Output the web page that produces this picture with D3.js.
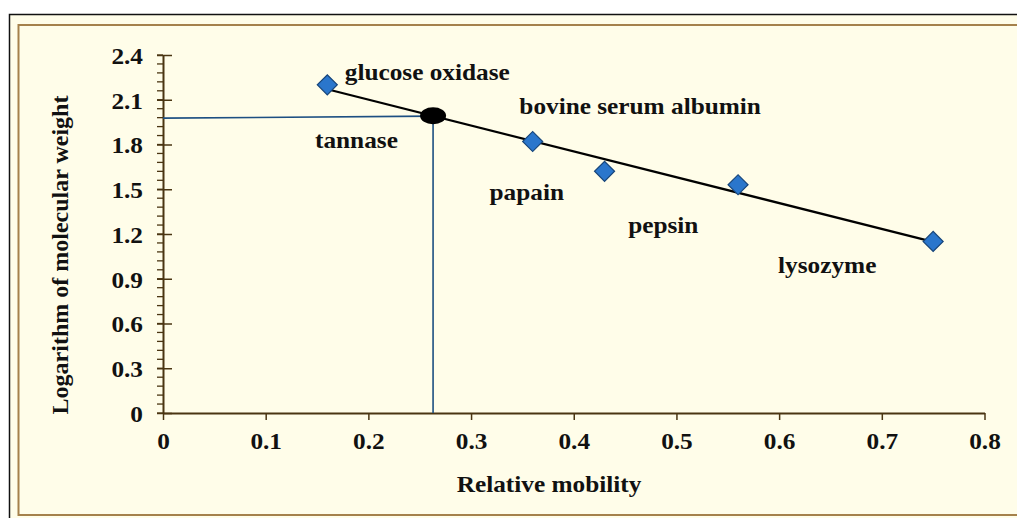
<!DOCTYPE html>
<html>
<head>
<meta charset="utf-8">
<script src="https://cdn.jsdelivr.net/npm/d3@7"></script>
<style>
  body { margin: 0; background: #fff; }
  svg text { font-family: "Liberation Serif", "Times New Roman", serif; font-weight: bold; fill: #111; }
</style>
</head>
<body>
<svg id="chart" width="1017" height="518"></svg>
<script>
// standards (relative mobility vs log MW)
var proteins = ['glucose oxidase', 'bovine serum albumin', 'papain', 'pepsin', 'lysozyme'];
var mobility = [0.16, 0.36, 0.43, 0.56, 0.75];
var logMW = [2.2, 1.82, 1.62, 1.53, 1.15];
// where each label sits (data units)
var labelX = [0.177, 0.347, 0.318, 0.453, 0.599];
var labelY = [2.232, 2.004, 1.428, 1.207, 0.939];
var tannase = {name: 'tannase', x: 0.263, y: 1.99, lx: 0.148, ly: 1.774};
var xTicks = [0, 0.1, 0.2, 0.3, 0.4, 0.5, 0.6, 0.7, 0.8];
var yTicks = [0, 0.3, 0.6, 0.9, 1.2, 1.5, 1.8, 2.1, 2.4];

var svg = d3.select('#chart');
var axisCol = '#4a3512';
var sx = 1.1; // the source picture is a bit wider than tall

// outer frames
svg.append('rect').attr('x', 9.5).attr('y', 14.5).attr('width', 1030).attr('height', 520)
  .attr('fill', '#fffde9').attr('stroke', '#111').attr('stroke-width', 1.5);
svg.append('rect').attr('x', 18.5).attr('y', 25).attr('width', 1030).attr('height', 490)
  .attr('fill', '#fffde9').attr('stroke', '#a5814c').attr('stroke-width', 2);

var x = d3.scaleLinear().domain([0, 0.8]).range([163, 984.5]);
var y = d3.scaleLinear().domain([0, 2.4]).range([413, 55]);

// y minor ticks (4 between majors)
var minor = d3.range(0, 2.4001, 0.06);
svg.append('g').selectAll('line').data(minor).join('line')
  .attr('x1', 157).attr('x2', 163)
  .attr('y1', function(d) { return y(d); }).attr('y2', function(d) { return y(d); })
  .attr('stroke', axisCol).attr('stroke-width', 1.3);

var fmt = function(d) { return d === 0 ? '0' : d3.format('.1f')(d); };

// y axis
var gy = svg.append('g').attr('transform', 'translate(163,0)')
  .call(d3.axisLeft(y).tickValues(yTicks).tickSizeInner(6).tickSizeOuter(0).tickFormat(fmt));
gy.select('.domain').attr('stroke', axisCol).attr('stroke-width', 2);
gy.selectAll('.tick line').attr('x1', -6).attr('x2', 9).attr('stroke', axisCol).attr('stroke-width', 1.5);
gy.selectAll('.tick text').attr('x', -20 / sx).attr('dy', '0.36em').attr('transform', 'scale(' + sx + ',1)')
  .style('font-size', '23px').style('font-family', '"Liberation Serif", serif').style('font-weight', 'bold').attr('fill', '#111');

// x axis
var gx = svg.append('g').attr('transform', 'translate(0,413)')
  .call(d3.axisBottom(x).tickValues(xTicks).tickSizeInner(7).tickSizeOuter(0).tickFormat(fmt));
gx.select('.domain').attr('stroke', axisCol).attr('stroke-width', 2);
gx.selectAll('.tick line').attr('stroke', axisCol).attr('stroke-width', 1.5);
gx.selectAll('.tick text').attr('y', 36).attr('dy', 0).attr('transform', 'scale(' + sx + ',1)')
  .style('font-size', '23px').style('font-family', '"Liberation Serif", serif').style('font-weight', 'bold').attr('fill', '#111');

// axis titles
svg.append('text').attr('transform', 'translate(549,492) scale(' + sx + ',1)').attr('text-anchor', 'middle')
  .style('font-size', '23px').text('Relative mobility');
svg.append('text').attr('transform', 'translate(68,255) rotate(-90)').attr('text-anchor', 'middle')
  .style('font-size', '24px').text('Logarithm of molecular weight');

// tannase guide lines
svg.append('line').attr('x1', 163).attr('y1', y(tannase.y) + 2).attr('x2', x(tannase.x)).attr('y2', y(tannase.y))
  .attr('stroke', '#1d4f82').attr('stroke-width', 1.6);
svg.append('line').attr('x1', x(tannase.x)).attr('y1', y(tannase.y)).attr('x2', x(tannase.x)).attr('y2', y(0))
  .attr('stroke', '#1d4f82').attr('stroke-width', 1.6);

// linear fit through the standards
var mx = d3.mean(mobility), my = d3.mean(logMW);
var sxy = d3.sum(mobility, function(v, i) { return (v - mx) * (logMW[i] - my); });
var sxx = d3.sum(mobility, function(v) { return (v - mx) * (v - mx); });
var slope = sxy / sxx, icpt = my - slope * mx;
var x0 = d3.min(mobility), x1 = d3.max(mobility);
svg.append('line').attr('x1', x(x0)).attr('y1', y(icpt + slope * x0))
  .attr('x2', x(x1)).attr('y2', y(icpt + slope * x1))
  .attr('stroke', '#000').attr('stroke-width', 2.2);

// standard markers
var pts = proteins.map(function(p, i) { return {name: p, x: mobility[i], y: logMW[i], lx: labelX[i], ly: labelY[i]}; });
svg.append('g').selectAll('path').data(pts).join('path')
  .attr('d', d3.symbol().type(d3.symbolSquare).size(200))
  .attr('transform', function(d) { return 'translate(' + x(d.x) + ',' + y(d.y) + ') rotate(45)'; })
  .attr('fill', '#2a76cc').attr('stroke', '#17457a').attr('stroke-width', 1.2);

// tannase marker
svg.append('ellipse').attr('cx', x(tannase.x)).attr('cy', y(tannase.y) - 0.5).attr('rx', 13).attr('ry', 8.5).attr('fill', '#000');

// labels
svg.append('g').selectAll('text').data(pts.concat([tannase])).join('text')
  .attr('transform', function(d) { return 'translate(' + x(d.lx) + ',' + y(d.ly) + ') scale(' + sx + ',1)'; })
  .style('font-size', '23px').text(function(d) { return d.name; });
</script>
</body>
</html>
